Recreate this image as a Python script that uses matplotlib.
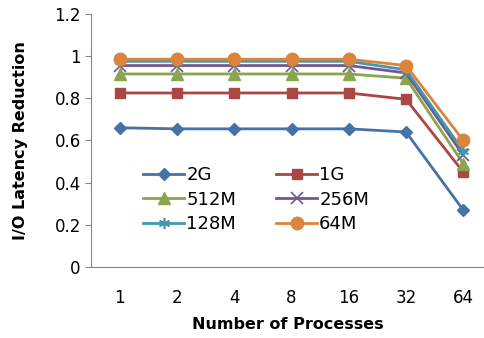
import numpy as np
import matplotlib.pyplot as plt

# kategorijos ir serijos
procs = ["1", "2", "4", "8", "16", "32", "64"]
s_2g = [0.66, 0.655, 0.655, 0.655, 0.655, 0.64, 0.27]
s_1g = [0.825, 0.825, 0.825, 0.825, 0.825, 0.795, 0.45]
s_512m = [0.915, 0.915, 0.915, 0.915, 0.915, 0.895, 0.49]
s_256m = [0.955, 0.955, 0.955, 0.955, 0.955, 0.92, 0.53]
s_128m = [0.975, 0.975, 0.975, 0.975, 0.975, 0.935, 0.55]
s_64m = [0.985, 0.985, 0.985, 0.985, 0.985, 0.955, 0.60]

x = np.arange(len(procs))

fig = plt.figure(figsize=(4.85, 3.38), dpi=100)
ax = fig.add_axes([0.188, 0.21, 0.812, 0.749])

l1, = ax.plot(x, s_2g, color="#4572A7", marker="D", ms=6.5, lw=2, label="2G")
l2, = ax.plot(x, s_1g, color="#AA4643", marker="s", ms=7.5, lw=2, label="1G")
l3, = ax.plot(x, s_512m, color="#89A54E", marker="^", ms=8.5, lw=2, label="512M")
l4, = ax.plot(x, s_256m, color="#71588F", marker="x", ms=8, mew=1.2, lw=2, label="256M")
l5, = ax.plot(x, s_128m, color="#4198AF", marker=(6, 2, 0), ms=8, mew=1.2, lw=2, label="128M")
l6, = ax.plot(x, s_64m, color="#DB843D", marker="o", ms=9, lw=2, label="64M")

ax.set_xlim(-0.5, 6.38)
ax.set_ylim(0, 1.2)
ax.set_yticks([0, 0.2, 0.4, 0.6, 0.8, 1.0, 1.2])
ax.set_yticklabels(["0", "0.2", "0.4", "0.6", "0.8", "1", "1.2"])
ax.set_xticks(x)
ax.set_xticklabels(procs)
ax.tick_params(axis="x", length=0, labelsize=12, pad=16)
ax.tick_params(axis="y", labelsize=12, length=4, color="#868686")

for s in ["top", "right"]:
    ax.spines[s].set_visible(False)
ax.spines["left"].set_color("#868686")
ax.spines["bottom"].set_color("#868686")

ax.set_xlabel("Number of Processes", fontsize=11.5, fontweight="bold", labelpad=7)
ax.set_ylabel("I/O Latency Reduction", fontsize=11.5, fontweight="bold", labelpad=19)

# legenda eilutėmis kaip Excel
handles = [l1, l3, l5, l2, l4, l6]
ax.legend(handles, [h.get_label() for h in handles], ncol=2, frameon=False,
          fontsize=13, loc="lower left", bbox_to_anchor=(0.09, 0.07),
          columnspacing=2.2, handlelength=2.3, handletextpad=0.1, labelspacing=0.35)

fig.savefig("out.png", dpi=100)
